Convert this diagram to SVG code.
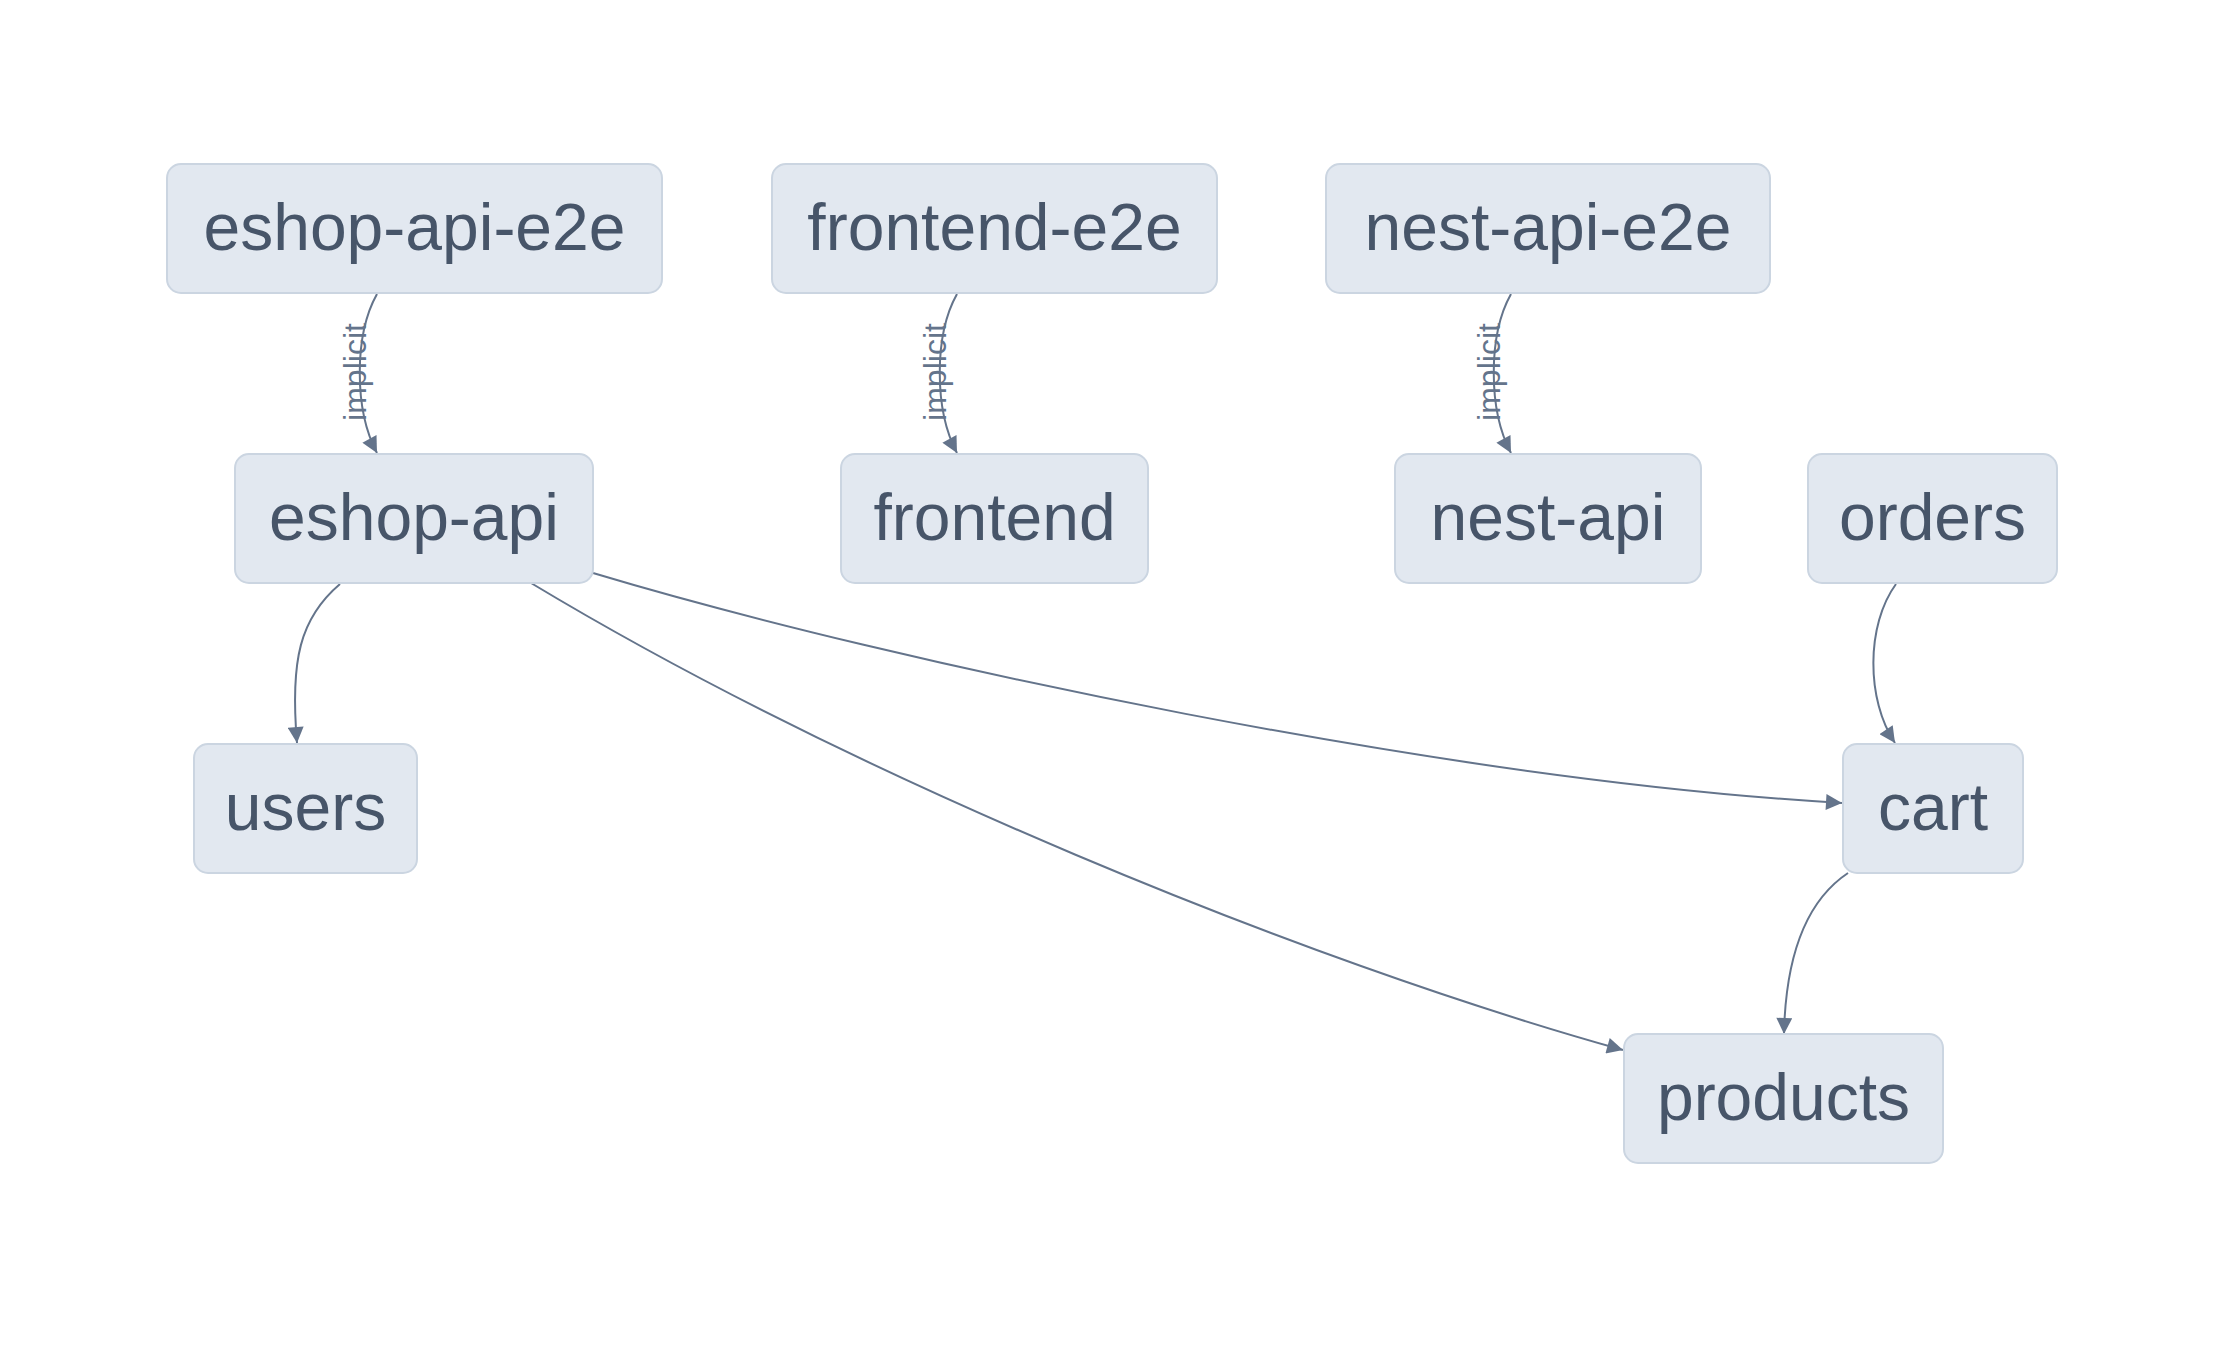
<svg xmlns="http://www.w3.org/2000/svg" width="2216" height="1350" viewBox="0 0 2216 1350">
  <style>
    .node rect { fill: #e2e8f0; stroke: #cbd5e1; stroke-width: 2; }
    .node text { font-family: "Liberation Sans", Arial, sans-serif; font-size: 66px; fill: #475569; text-anchor: middle; }
    .edge { fill: none; stroke: #64748b; stroke-width: 2; marker-end: url(#arrow); }
    .elabel { font-family: "Liberation Sans", Arial, sans-serif; font-size: 32px; fill: #64748b; text-anchor: middle; dominant-baseline: central; }
  </style>
  <defs>
    <marker id="arrow" viewBox="0 0 10 10" refX="10" refY="5" markerWidth="17" markerHeight="16" markerUnits="userSpaceOnUse" orient="auto">
      <path d="M0,0 L10,5 L0,10 z" fill="#64748b"/>
    </marker>
  </defs>
  <rect x="0" y="0" width="2216" height="1350" fill="#ffffff"/>
  <g id="connectors">
    <path class="edge" d="M377,294 C354,335 354,410 377,453"/>
    <path class="edge" d="M957,294 C934,335 934,410 957,453"/>
    <path class="edge" d="M1511,294 C1488,335 1488,410 1511,453"/>
    <path class="edge" d="M340,584 C300,618 290,660 297,743"/>
    <path class="edge" d="M593,573 C900,665 1450,780 1842,803"/>
    <path class="edge" d="M531,583 C850,775 1300,960 1623,1050"/>
    <path class="edge" d="M1896,584 C1866,625 1866,700 1895,743"/>
    <path class="edge" d="M1848,873 C1815,895 1786,940 1784,1034"/>
    <text class="elabel" transform="translate(355,372) rotate(-90)">implicit</text>
    <text class="elabel" transform="translate(935,372) rotate(-90)">implicit</text>
    <text class="elabel" transform="translate(1489,372) rotate(-90)">implicit</text>
  </g>
  <g id="node-eshop-api-e2e" class="node">
    <rect x="167" y="164" width="495" height="129" rx="14"/>
    <text x="414.5" y="250">eshop-api-e2e</text>
  </g>
  <g id="node-frontend-e2e" class="node">
    <rect x="772" y="164" width="445" height="129" rx="14"/>
    <text x="994.5" y="250">frontend-e2e</text>
  </g>
  <g id="node-nest-api-e2e" class="node">
    <rect x="1326" y="164" width="444" height="129" rx="14"/>
    <text x="1548" y="250">nest-api-e2e</text>
  </g>
  <g id="node-eshop-api" class="node">
    <rect x="235" y="454" width="358" height="129" rx="14"/>
    <text x="414" y="540">eshop-api</text>
  </g>
  <g id="node-frontend" class="node">
    <rect x="841" y="454" width="307" height="129" rx="14"/>
    <text x="994.5" y="540">frontend</text>
  </g>
  <g id="node-nest-api" class="node">
    <rect x="1395" y="454" width="306" height="129" rx="14"/>
    <text x="1548" y="540">nest-api</text>
  </g>
  <g id="node-orders" class="node">
    <rect x="1808" y="454" width="249" height="129" rx="14"/>
    <text x="1932.5" y="540">orders</text>
  </g>
  <g id="node-users" class="node">
    <rect x="194" y="744" width="223" height="129" rx="14"/>
    <text x="305.5" y="830">users</text>
  </g>
  <g id="node-cart" class="node">
    <rect x="1843" y="744" width="180" height="129" rx="14"/>
    <text x="1933" y="830">cart</text>
  </g>
  <g id="node-products" class="node">
    <rect x="1624" y="1034" width="319" height="129" rx="14"/>
    <text x="1783.5" y="1120">products</text>
  </g>
</svg>
